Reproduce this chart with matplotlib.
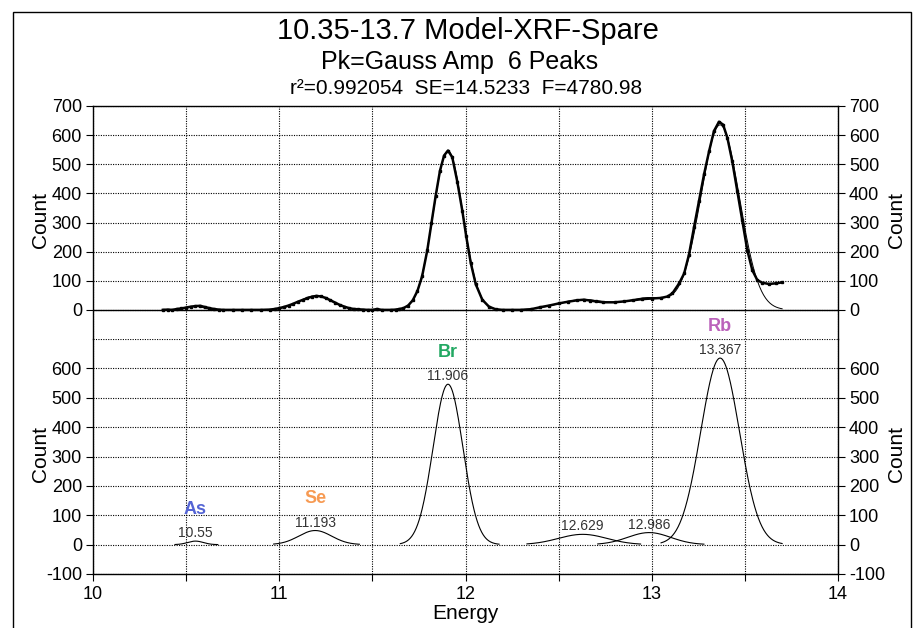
import numpy as np
import matplotlib.pyplot as plt
from matplotlib.patches import Rectangle
from matplotlib.ticker import FuncFormatter

plt.rcParams['font.family'] = ['Liberation Sans', 'DejaVu Sans']
plt.rcParams['axes.unicode_minus'] = False

# fitted peaks (Gauss Amp)
pk_center = [10.55, 11.193, 11.906, 12.629, 12.986, 13.367]
pk_amp = [12, 48, 546, 35, 41, 635]
pk_sigma = [0.042, 0.088, 0.080, 0.13, 0.115, 0.104]
pk_lo = [10.44, 10.97, 11.65, 12.33, 12.71, 13.05]
pk_hi = [10.67, 11.43, 12.18, 12.94, 13.28, 13.70]
pk_name = ['As', 'Se', 'Br', '', '', 'Rb']
pk_color = ['#5464d4', '#f79a52', '#22a862', '', '', '#bb62bb']

energy = [10.375, 10.40, 10.425, 10.45, 10.475, 10.50, 10.525, 10.55, 10.575, 10.60,
          10.625, 10.65, 10.675, 10.70, 10.75, 10.80, 10.85, 10.90, 10.95, 10.975,
          11.00, 11.025, 11.05, 11.075, 11.10, 11.125, 11.15, 11.175, 11.20, 11.225,
          11.25, 11.275, 11.30, 11.325, 11.35, 11.375, 11.40, 11.425, 11.45, 11.475,
          11.50, 11.525, 11.55, 11.60, 11.625, 11.645, 11.667, 11.692, 11.717, 11.742,
          11.767, 11.795, 11.817, 11.840, 11.863, 11.885, 11.906, 11.929, 11.956, 11.983,
          12.004, 12.028, 12.055, 12.09, 12.126, 12.162, 12.20, 12.25, 12.30, 12.35,
          12.40, 12.45, 12.50, 12.55, 12.60, 12.635, 12.67, 12.70, 12.74, 12.80,
          12.85, 12.90, 12.95, 13.00, 13.05, 13.085, 13.111, 13.147, 13.174, 13.20,
          13.227, 13.254, 13.281, 13.308, 13.334, 13.361, 13.383, 13.406, 13.432, 13.459,
          13.486, 13.513, 13.54, 13.567, 13.594, 13.629, 13.665, 13.697]
counts = [0, 1, 0, 3, 5, 8, 11, 13, 14, 10,
          6, 3, 1, 0, 0, 0, 0, 0, 1, 3,
          6, 10, 15, 21, 28, 34, 40, 45, 48, 46,
          41, 33, 25, 17, 11, 6, 3, 2, 1, 0,
          0, 3, 0, 0, 1, 3, 6, 15, 33, 65,
          115, 205, 297, 392, 478, 530, 547, 524, 440, 340,
          252, 162, 88, 35, 11, 2, 0, 0, 0, 2,
          9, 15, 22, 28, 33, 35, 32, 29, 26, 26,
          29, 33, 37, 39, 41, 46, 57, 91, 125, 190,
          284, 375, 466, 545, 614, 646, 636, 591, 511, 409,
          307, 205, 136, 102, 93, 89, 91, 94]

title = '10.35-13.7 Model-XRF-Spare'
sub1 = 'Pk=Gauss Amp  6 Peaks'
sub2 = 'r²=0.992054  SE=14.5233  F=4780.98'


def gauss(x, a, c, s):
    return a * np.exp(-0.5 * ((x - c) / s) ** 2)


fig = plt.figure(figsize=(9.13, 6.28), dpi=100)
W, H = 913, 628
L, R = 93, 838
ax1 = fig.add_axes([L / W, 1 - 339 / H, (R - L) / W, 233 / H])
ax2 = fig.add_axes([L / W, 1 - 574 / H, (R - L) / W, 235 / H])

dot = (0, (1, 1.2))
for ax in (ax1, ax2):
    ax.set_xlim(10, 14)
    ax.set_ylim(-100, 700)
    ax.set_xticks(np.arange(10, 14.01, 0.5))
    ax.grid(True, color='k', linestyle=dot, linewidth=0.8)
    ax.tick_params(axis='y', which='both', direction='out', length=5, left=True, right=True,
                   labelleft=True, labelright=True, labelsize=13, pad=3)
    ax.tick_params(axis='x', direction='out', length=5, labelsize=13)
    for s in ax.spines.values():
        s.set_linewidth(1)

# top: data + fit
ax1.set_yticks(np.arange(0, 701, 100))
ax1.tick_params(axis='x', bottom=False, labelbottom=False)
ax1.spines['bottom'].set_visible(False)
ax1.axhline(0, color='k', lw=1)
xf = np.linspace(10.375, 13.70, 600)
fit = np.zeros_like(xf)
for a, c, s in zip(pk_amp, pk_center, pk_sigma):
    fit += gauss(xf, a, c, s)
ax1.plot(xf, fit, color='k', lw=0.7, zorder=3)
ax1.plot(energy, counts, color='k', lw=1.8, marker='s', ms=2, zorder=4)

# bottom: individual peaks
ax2.set_yticks(np.arange(-100, 601, 100))
ax2.spines['top'].set_visible(False)
ax2.axhline(700, color='k', linestyle=dot, linewidth=0.8)
ax2.xaxis.set_major_formatter(FuncFormatter(lambda v, p: '%d' % v if v == int(v) else ''))
for a, c, s, lo, hi, nm, col in zip(pk_amp, pk_center, pk_sigma, pk_lo, pk_hi, pk_name, pk_color):
    xx = np.linspace(lo, hi, 200)
    ax2.plot(xx, gauss(xx, a, c, s), color='k', lw=0.8)
    ax2.annotate(('%.3f' % c).rstrip('0'), (c, a), xytext=(0, 8), textcoords='offset pixels',
                 ha='center', va='center', fontsize=10, color='#333333')
    if nm:
        ax2.annotate(nm, (c, a), xytext=(0, 32), textcoords='offset pixels', ha='center',
                     va='center', fontsize=13, fontweight='bold', color=col)

ax2.set_xlabel('Energy', fontsize=15, labelpad=1)
for ax in (ax1, ax2):
    ax.text(-0.07, 0.51, 'Count', rotation=90, ha='center', va='center', fontsize=15,
            transform=ax.transAxes)
    ax.text(1.079, 0.51, 'Count', rotation=90, ha='center', va='center', fontsize=15,
            transform=ax.transAxes)

fig.text(0.512, 1 - 31 / H, title, ha='center', va='center', fontsize=21)
fig.text(0.503, 1 - 62 / H, sub1, ha='center', va='center', fontsize=18)
fig.text(0.51, 1 - 88 / H, sub2, ha='center', va='center', fontsize=15)

fig.patches.append(Rectangle((13 / W, -0.01), (911 - 13) / W, 1 - 12 / H + 0.01,
                             transform=fig.transFigure, fill=False, lw=1, ec='k'))

fig.savefig('out.png', dpi=100)
